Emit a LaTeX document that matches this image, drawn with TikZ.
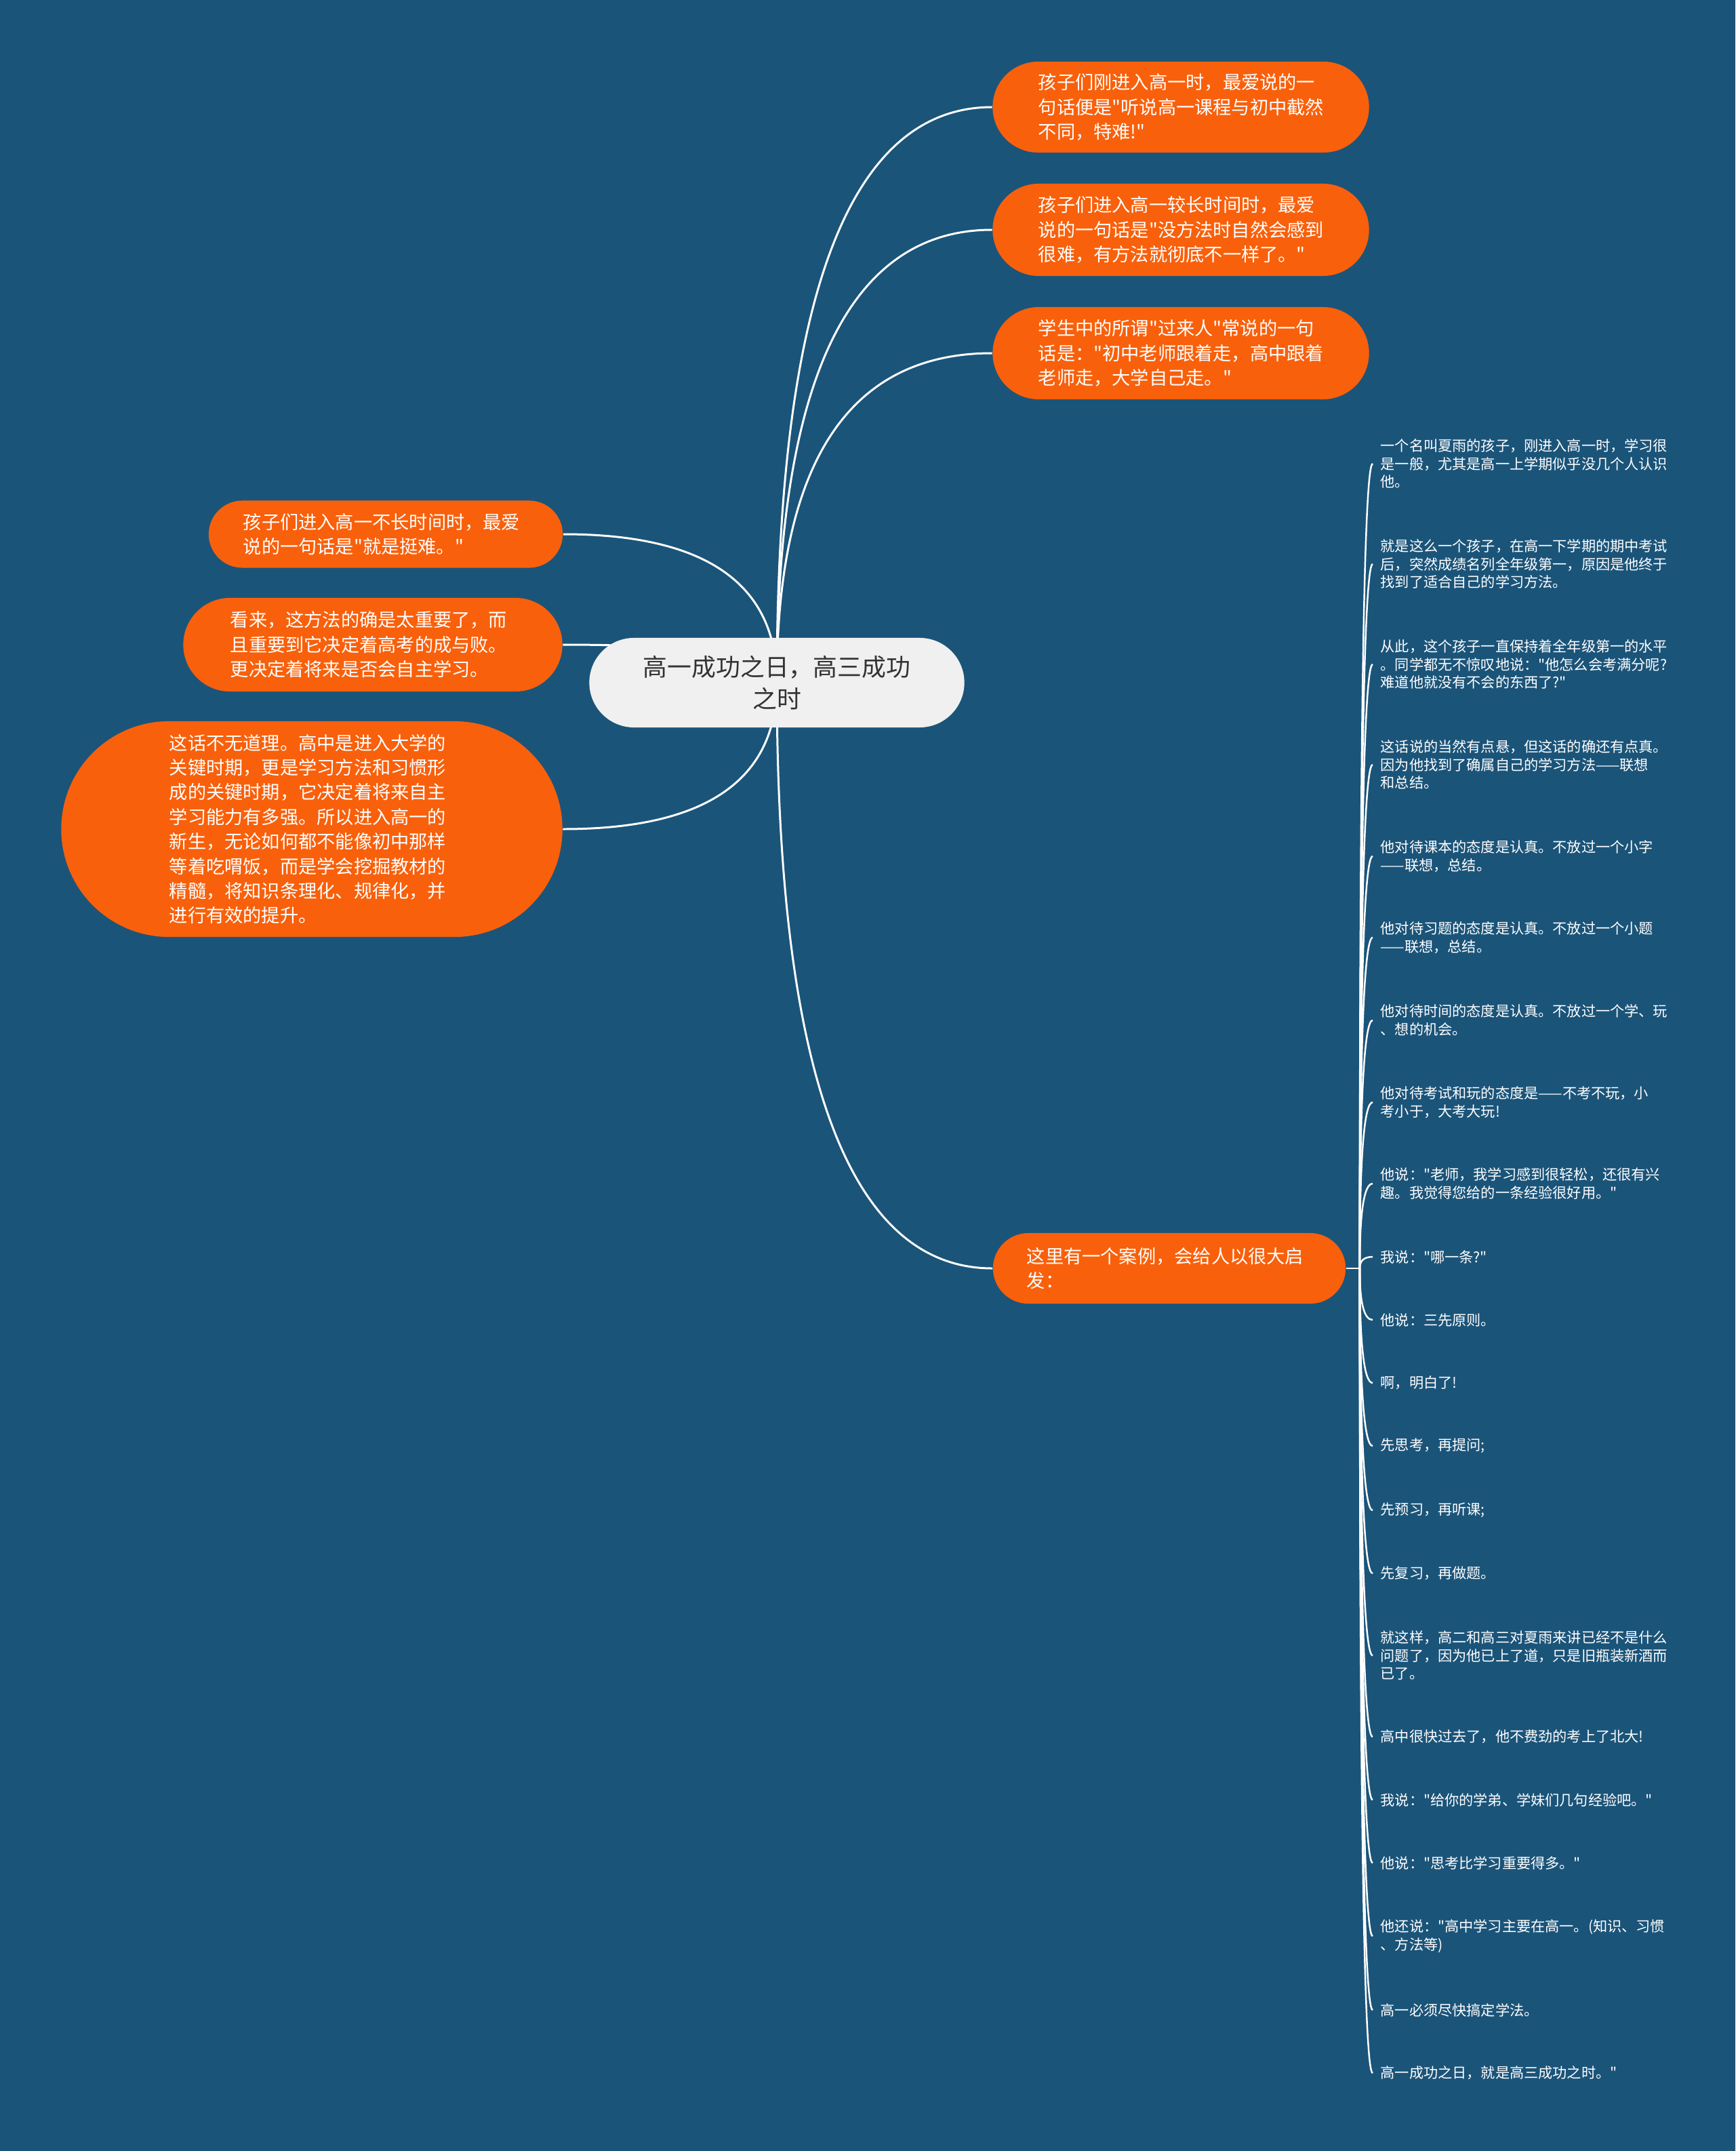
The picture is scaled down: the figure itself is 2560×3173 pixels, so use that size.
\documentclass[tikz,border=0pt]{standalone}
\usepackage{fontspec}
\setmainfont{Noto Sans CJK SC}[Ligatures=TeXOff]
\usetikzlibrary{shapes.misc,calc}
\definecolor{bgblue}{HTML}{1B5479}
\definecolor{orng}{HTML}{F9600B}
\definecolor{rootfill}{HTML}{F0F0F0}
\definecolor{roottext}{HTML}{333333}
\pgfdeclarelayer{bglayer}
\pgfdeclarelayer{lines}
\pgfsetlayers{bglayer,lines,main}
\tikzset{
 rootbox/.style={rounded rectangle, fill=rootfill, text=roottext, font=\fontsize{10.2pt}{13.2pt}\selectfont, align=center, inner sep=0pt, minimum width=5.53cm, minimum height=1.32cm},
 topicbox/.style={rounded rectangle, fill=orng, text=white, font=\fontsize{7.74pt}{10.35pt}\selectfont, align=left, text width=4.2cm, inner sep=0pt},
 itemtext/.style={text=white, font=\fontsize{6.02pt}{7.5pt}\selectfont, align=left, anchor=west, inner xsep=0.11cm, inner ysep=0pt},
 conn/.style={draw=white, line width=0.85pt},
 subconn/.style={draw=white, line width=0.7pt},
}
\begin{document}
\begin{tikzpicture}[x=0.01cm,y=-0.01cm]
\begin{pgfonlayer}{bglayer}
\fill[bgblue] (0,0) rectangle (2560,3173);
\end{pgfonlayer}
\useasboundingbox (0,0) rectangle (2560,3173);

\node[rootbox] (root) at (1146,1007) {高一成功之日，高三成功\\之时};

\node[topicbox, minimum width=5.55cm, minimum height=1.34cm] (r1) at (1742,158) {孩子们刚进入高一时，最爱说的一\\句话便是"听说高一课程与初中截然\\不同，特难!"};
\node[topicbox, minimum width=5.55cm, minimum height=1.36cm] (r2) at (1742,339) {孩子们进入高一较长时间时，最爱\\说的一句话是"没方法时自然会感到\\很难，有方法就彻底不一样了。"};
\node[topicbox, minimum width=5.55cm, minimum height=1.36cm] (r3) at (1742,521) {学生中的所谓"过来人"常说的一句\\话是："初中老师跟着走，高中跟着\\老师走，大学自己走。"};

\node[topicbox, minimum width=5.22cm, minimum height=0.99cm] (l1) at (569,788) {孩子们进入高一不长时间时，最爱\\说的一句话是"就是挺难。"};
\node[topicbox, minimum width=5.59cm, minimum height=1.38cm] (l2) at (550,951) {看来，这方法的确是太重要了，而\\且重要到它决定着高考的成与败。\\更决定着将来是否会自主学习。};
\node[topicbox, minimum width=7.39cm, minimum height=3.18cm] (l3) at (460,1223) {这话不无道理。高中是进入大学的\\关键时期，更是学习方法和习惯形\\成的关键时期，它决定着将来自主\\学习能力有多强。所以进入高一的\\新生，无论如何都不能像初中那样\\等着吃喟饭，而是学会挖掘教材的\\精髓，将知识条理化、规律化，并\\进行有效的提升。};

\node[topicbox, minimum width=5.20cm, minimum height=1.04cm] (case) at (1725,1871) {这里有一个案例，会给人以很大启\\发：};

\node[itemtext] (i1) at (2025,684) {一个名叫夏雨的孩子，刚进入高一时，学习很\\是一般，尤其是高一上学期似乎没几个人认识\\他。};
\node[itemtext] (i2) at (2025,832) {就是这么一个孩子，在高一下学期的期中考试\\后，突然成绩名列全年级第一，原因是他终于\\找到了适合自己的学习方法。};
\node[itemtext] (i3) at (2025,980) {从此，这个孩子一直保持着全年级第一的水平\\。同学都无不惊叹地说："他怎么会考满分呢?\\难道他就没有不会的东西了?"};
\node[itemtext] (i4) at (2025,1128) {这话说的当然有点悬，但这话的确还有点真。\\因为他找到了确属自己的学习方法——联想\\和总结。};
\node[itemtext] (i5) at (2025,1263) {他对待课本的态度是认真。不放过一个小字\\——联想，总结。};
\node[itemtext] (i6) at (2025,1383) {他对待习题的态度是认真。不放过一个小题\\——联想，总结。};
\node[itemtext] (i7) at (2025,1505) {他对待时间的态度是认真。不放过一个学、玩\\、想的机会。};
\node[itemtext] (i8) at (2025,1626) {他对待考试和玩的态度是——不考不玩，小\\考小于，大考大玩!};
\node[itemtext] (i9) at (2025,1746) {他说："老师，我学习感到很轻松，还很有兴\\趣。我觉得您给的一条经验很好用。"};
\node[itemtext] (i10) at (2025,1854) {我说："哪一条?"};
\node[itemtext] (i11) at (2025,1947) {他说：三先原则。};
\node[itemtext] (i12) at (2025,2040) {啊，明白了!};
\node[itemtext] (i13) at (2025,2133) {先思考，再提问;};
\node[itemtext] (i14) at (2025,2228) {先预习，再听课;};
\node[itemtext] (i15) at (2025,2321) {先复习，再做题。};
\node[itemtext] (i16) at (2025,2442) {就这样，高二和高三对夏雨来讲已经不是什么\\问题了，因为他已上了道，只是旧瓶装新酒而\\已了。};
\node[itemtext] (i17) at (2025,2562) {高中很快过去了，他不费劲的考上了北大!};
\node[itemtext] (i18) at (2025,2655) {我说："给你的学弟、学妹们几句经验吧。"};
\node[itemtext] (i19) at (2025,2748) {他说："思考比学习重要得多。"};
\node[itemtext] (i20) at (2025,2856) {他还说："高中学习主要在高一。(知识、习惯\\、方法等)};
\node[itemtext] (i21) at (2025,2965) {高一必须尽快搞定学法。};
\node[itemtext] (i22) at (2025,3058) {高一成功之日，就是高三成功之时。"};

\coordinate (hub) at ([xshift=0.2cm]case.east);

\begin{pgfonlayer}{lines}
\foreach \nm in {r1,r2,r3,case} {
  \draw[conn] (root.center) .. controls ($(root.center)!0.667!(root.center |- \nm.west)$) and ($(\nm.west)!0.667!(root.center |- \nm.west)$) .. (\nm.west);
}
\foreach \nm in {l1,l2,l3} {
  \draw[conn] (root.center) .. controls ($(root.center)!0.667!(root.center |- \nm.east)$) and ($(\nm.east)!0.667!(root.center |- \nm.east)$) .. (\nm.east);
}
\draw[subconn] (case.east) -- (hub);
\foreach \k in {1,...,22} {
  \draw[subconn] (hub) .. controls ($(hub)!0.667!(hub |- i\k.west)$) and ($(i\k.west)!0.667!(hub |- i\k.west)$) .. (i\k.west);
}
\end{pgfonlayer}
\end{tikzpicture}
\end{document}
